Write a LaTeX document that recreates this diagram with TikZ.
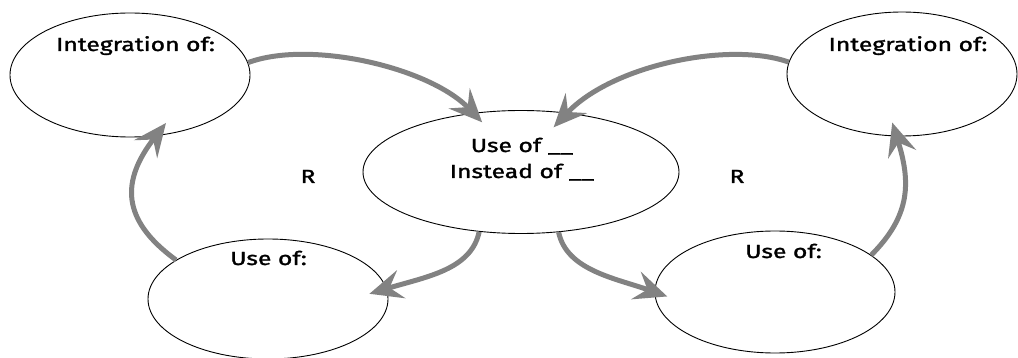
\documentclass[tikz,border=0pt]{standalone}
\usepackage{fontspec}
\setmainfont{Fira Sans}[FakeStretch=1.3, FakeBold=1.5]
\usetikzlibrary{shapes.geometric,arrows.meta}
\definecolor{arrowgray}{RGB}{130,130,130}
\tikzset{
  ell/.style={ellipse, draw=black, line width=0.9pt, inner sep=0pt},
  lbl/.style={anchor=base, inner sep=0pt, font=\fontsize{19}{22}\selectfont},
  conn/.style={draw=arrowgray, line width=5pt,
    -{Stealth[length=33pt 0, width=29pt 0, inset=12pt 0]}}
}
\begin{document}
\begin{tikzpicture}[x=1pt,y=-1pt]
\useasboundingbox (0,0) rectangle (1018,358);
% ellipses
\node[ell, minimum width=240pt, minimum height=124pt] (TL) at (130,75) {};
\node[ell, minimum width=316pt, minimum height=123pt] (C) at (521,172) {};
\node[ell, minimum width=230pt, minimum height=124pt] (TR) at (902,74) {};
\node[ell, minimum width=240pt, minimum height=120pt] (BL) at (268,299) {};
\node[ell, minimum width=240pt, minimum height=122pt] (BR) at (775,292) {};
% texts
\node[lbl] (tTL) at (135.5,51) {Integration of:};
\node[lbl] (tTR) at (908,51) {Integration of:};
\node[lbl] (tC1) at (522,152) {Use of \_\_};
\node[lbl] (tC2) at (522,178) {Instead of \_\_};
\node[lbl] (tBL) at (268.5,265) {Use of:};
\node[lbl] (tBR) at (783.5,258) {Use of:};
\node[lbl] (R1) at (308,183) {R};
\node[lbl] (R2) at (737,183) {R};
% connectors
\draw[conn, shorten >=-13pt] (TL.6) .. controls +(62,-23) and +(-43.5,-45.5) .. (C.129);
\draw[conn, shorten >=-20pt] (TR.174) .. controls +(-59,-21) and +(45,-48) .. (C.52);
\draw[conn, shorten >=-18pt] (C.235) .. controls +(-8,38) and +(40,-12) .. (BL.5);
\draw[conn, shorten >=-13.5pt] (C.-58) .. controls +(8,38) and +(-40,-14) .. (BR.180);
\draw[conn, shorten >=-16.5pt] (BL.157) .. controls +(-55,-40) and +(-35,45) .. (TL.-67);
\draw[conn, shorten >=-14.5pt] (BR.21) .. controls +(40,-40) and +(14,45) .. (TR.-95);
\end{tikzpicture}
\end{document}
